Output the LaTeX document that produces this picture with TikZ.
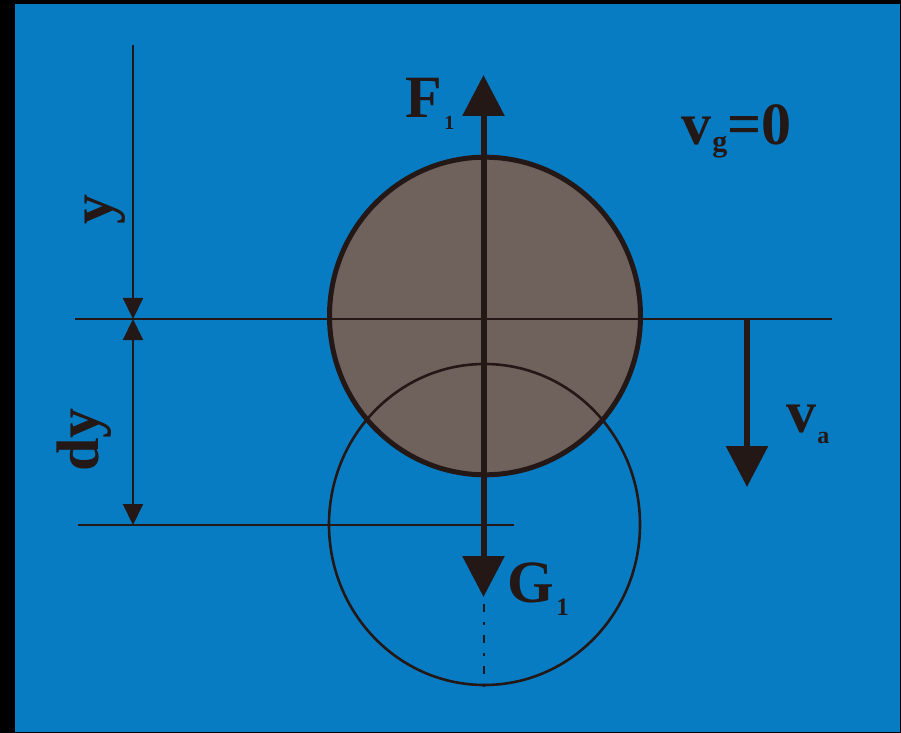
\documentclass[tikz,border=0pt]{standalone}
\usepackage{fontspec}
\setmainfont{Liberation Serif}
\usetikzlibrary{arrows.meta}
\definecolor{bg}{RGB}{8,124,195}
\definecolor{ink}{RGB}{35,24,21}
\definecolor{ball}{RGB}{111,98,92}
\begin{document}
\begin{tikzpicture}[x=0.5pt,y=-0.5pt,
  big/.style={inner sep=0pt, text=ink, font=\bfseries\fontsize{30}{36}\selectfont},
  subs/.style={inner sep=0pt, text=ink, font=\bfseries\fontsize{#1}{#1}\selectfont},
  thinline/.style={draw=ink, line width=1pt},
  force/.style={draw=ink, line width=3pt},
  bigtip/.tip={Triangle[length=20.5pt,width=20.5pt]},
  dimtip/.tip={Triangle[length=10.5pt,width=10pt]},
]
\useasboundingbox (0,0) rectangle (901,733);
\fill[black] (0,0) rectangle (901,733);
\fill[bg] (15,4) rectangle (900,732);

% coordinates
\coordinate (hl) at (75,319);
\coordinate (hr) at (832,319);
\coordinate (ll) at (78,525);
\coordinate (lr) at (514,525);
\coordinate (dtop) at (133,45);
\coordinate (dmid) at (133,319);
\coordinate (dbot) at (133,525);
\coordinate (ftip) at (483.5,75);
\coordinate (gtip) at (483.5,597);
\coordinate (dashstart) at (483.5,604);
\coordinate (dashend) at (483.5,692);
\coordinate (vastart) at (747,319);
\coordinate (vatip) at (747,487);

% thin (displaced) circle
\draw[ink, line width=1.3pt] (484.5,524.5) ellipse [x radius=77.75pt, y radius=80.25pt];
% ball
\draw[ink, line width=2.5pt, fill=ball] (485,316) ellipse [x radius=77.75pt, y radius=79.4pt];
\begin{scope}
  \clip (485,316) ellipse [x radius=77.75pt, y radius=79.4pt];
  \draw[ink, line width=1.3pt] (484.5,524.5) ellipse [x radius=77.75pt, y radius=80.25pt];
\end{scope}

% horizontal reference lines
\draw[thinline] (hl) -- (hr);
\draw[thinline] (ll) -- (lr);

% dimension line
\draw[thinline, -dimtip] (dtop) -- (dmid);
\draw[thinline, dimtip-dimtip] (dmid) -- (dbot);

% forces
\draw[force, bigtip-bigtip] (ftip) -- (gtip);
\draw[ink, line width=1pt, dash pattern=on 4pt off 5pt on 1.5pt off 5pt] (dashstart) -- (dashend);
\draw[force, -bigtip] (vastart) -- (vatip);

% labels
\node[big, rotate=90] (ly) at (105,210) {y};
\node[big, rotate=90] (ldy) at (84.5,440) {dy};
\node[big, anchor=base west] (lF) at (405,118) {F};
\node[subs=10, anchor=base west] (lF1) at (444,130) {1};
\node[big, anchor=base west] (lG) at (507,602) {G};
\node[subs=12.5, anchor=base west] (lG1) at (556,615) {1};
\node[big, anchor=base west] (lvg) at (681,145) {v};
\node[subs=15, anchor=base west] (lg) at (712,152) {g};
\node[big, anchor=base west] (leq) at (727,145) {=0};
\node[big, anchor=base west] (lva) at (786,432) {v};
\node[subs=12, anchor=base west] (la) at (817,444) {a};
\end{tikzpicture}
\end{document}
